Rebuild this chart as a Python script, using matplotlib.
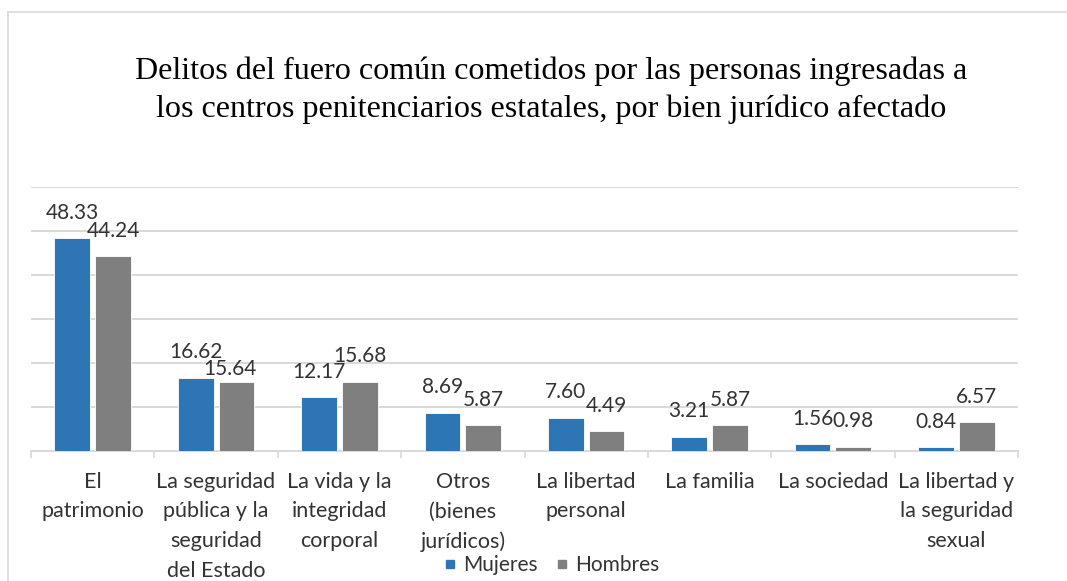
"""Delitos del fuero común por bien jurídico afectado (Mujeres vs Hombres)."""

import matplotlib
matplotlib.use("Agg")
import matplotlib.pyplot as plt
from matplotlib.lines import Line2D
import numpy as np

# --- data ------------------------------------------------------------------
categories = [
    "El\npatrimonio",
    "La seguridad\npública y la\nseguridad\ndel Estado",
    "La vida y la\nintegridad\ncorporal",
    "Otros\n(bienes\njurídicos)",
    "La libertad\npersonal",
    "La familia",
    "La sociedad",
    "La libertad y\nla seguridad\nsexual",
]
mujeres = [48.33, 16.62, 12.17, 8.69, 7.60, 3.21, 1.56, 0.84]
hombres = [44.24, 15.64, 15.68, 5.87, 4.49, 5.87, 0.98, 6.57]
series_names = ["Mujeres", "Hombres"]

title_lines = [
    "Delitos del fuero común cometidos por las personas ingresadas a",
    "los centros penitenciarios estatales, por bien jurídico afectado",
]

BLUE = "#2E75B6"
GRAY = "#7F7F7F"
GRID = "#D9D9D9"
TEXT = "#333333"
W, H = 1067, 581

plt.rcParams["font.family"] = ["Lato", "DejaVu Sans"]

fig = plt.figure(figsize=(W / 100, H / 100), dpi=100)
ax = fig.add_axes([31 / W, (H - 451) / H, 987 / W, 264.3 / H])

x = np.arange(len(categories))
bw = 0.29
off = 0.165
b1 = ax.bar(x - off, mujeres, bw, color=BLUE, edgecolor="white", linewidth=0.6, zorder=3)
b2 = ax.bar(x + off, hombres, bw, color=GRAY, edgecolor="white", linewidth=0.6, zorder=3)

# one label in the original was dragged down/left so it doesn't collide
nudge = {(1, 1): (-5, 5)}

for s, (bars, vals) in enumerate(((b1, mujeres), (b2, hombres))):
    for i, (rect, v) in enumerate(zip(bars, vals)):
        dx, dy = nudge.get((s, i), (0, 14))
        ax.annotate(f"{v:.2f}", (rect.get_x() + rect.get_width() / 2, v),
                    xytext=(dx, dy), textcoords="offset points",
                    ha="center", va="baseline", fontsize=15, color=TEXT, zorder=4)

ax.set_xlim(-0.5, len(categories) - 0.5)
ax.set_ylim(0, 60)
ax.set_yticks(np.arange(10, 61, 10))
ax.yaxis.grid(True, color=GRID, linewidth=1.4)
ax.set_axisbelow(True)
ax.tick_params(axis="y", left=False, labelleft=False)

ax.set_xticks(x)
ax.set_xticklabels(categories, fontsize=15.5, color=TEXT, linespacing=1.6)
ax.tick_params(axis="x", which="major", length=0, pad=15)
ax.set_xticks(np.arange(-0.5, len(categories)), minor=True)
ax.tick_params(axis="x", which="minor", length=5, width=1.2, color=GRID)

for side in ("left", "right", "top"):
    ax.spines[side].set_visible(False)
ax.spines["bottom"].set_color(GRID)
ax.spines["bottom"].set_linewidth(1.4)

# title, two lines in a serif face
for i, line in enumerate(title_lines):
    fig.text(551.5 / W, 1 - (79 + 38 * i) / H, line, ha="center", va="baseline",
             fontsize=23.1, family=["Liberation Serif", "DejaVu Serif"], color="black")

# legend
handles = [Line2D([], [], marker="s", linestyle="none", markersize=6, color=c)
           for c in (BLUE, GRAY)]
fig.legend(handles, series_names, loc="center", bbox_to_anchor=(552 / W, 1 - 565 / H),
           ncol=2, frameon=False, fontsize=15, labelcolor=TEXT,
           handlelength=0.5, handletextpad=0.4, columnspacing=0.9, borderpad=0)

# light chart-area frame (only left and top edges are in view)
fig.add_artist(Line2D([8 / W, 8 / W], [0, 1 - 12 / H], transform=fig.transFigure,
                      color=GRID, linewidth=1.2))
fig.add_artist(Line2D([8 / W, 1], [1 - 12 / H, 1 - 12 / H], transform=fig.transFigure,
                      color=GRID, linewidth=1.2))

fig.savefig("out.png", dpi=100)
